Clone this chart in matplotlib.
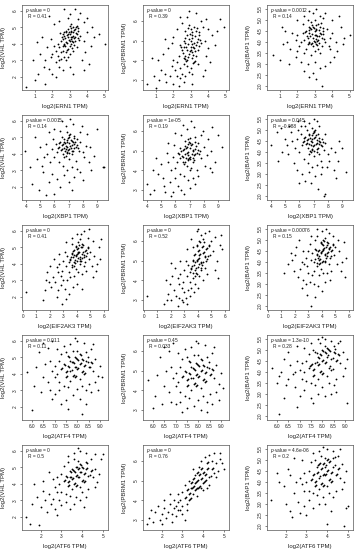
import matplotlib
matplotlib.use("Agg")
import matplotlib.pyplot as plt

plt.rcParams["font.family"] = ["Liberation Sans", "DejaVu Sans"]
plt.rcParams["mathtext.fontset"] = "custom"
plt.rcParams["mathtext.rm"] = "Liberation Sans"
plt.rcParams["mathtext.it"] = "Liberation Sans:italic"

X_GENES = ["ERN1", "XBP1", "EIF2AK3", "ATF4", "ATF6"]
Y_GENES = ["VHL", "PBRM1", "BAP1"]

X_TICKS = {
    "ERN1": [1, 2, 3, 4, 5],
    "XBP1": [4, 5, 6, 7, 8, 9],
    "EIF2AK3": [0, 1, 2, 3, 4, 5, 6],
    "ATF4": [6.0, 6.5, 7.0, 7.5, 8.0, 8.5, 9.0],
    "ATF6": [2, 3, 4, 5],
}
Y_TICKS = {
    "VHL": [2, 3, 4, 5, 6],
    "PBRM1": [3, 4, 5, 6],
    "BAP1": [2.0, 2.5, 3.0, 3.5, 4.0, 4.5, 5.0, 5.5],
}
X_LIM = {"ERN1": (0.26, 5.2), "XBP1": (3.72, 9.76), "EIF2AK3": (-0.07, 6.3),
         "ATF4": (5.57, 9.35), "ATF6": (1.1, 5.24)}
Y_LIM = {"VHL": (1.21, 6.36), "PBRM1": (2.5, 6.8), "BAP1": (1.82, 5.68)}

P_VALUES = [["0", "0", "0.0012"],
            ["0.0015", "1e-05", "0.045"],
            ["0", "0", "0.00076"],
            ["0.011", "0.45", "1.3e-10"],
            ["0", "0", "4.6e-06"]]
R_VALUES = [["0.41", "0.39", "0.14"],
            ["0.14", "0.19", "-0.088"],
            ["0.41", "0.52", "0.15"],
            ["0.11", "0.033", "0.28"],
            ["0.5", "0.76", "0.2"]]

ERN1_VHL = [(2.7,4.5),(2.8,4.7),(2.9,4.4),(3.0,4.6),(3.1,4.8),(3.2,4.5),(3.3,4.9),(3.0,4.2),(2.9,4.9),(3.1,4.3),(3.4,4.6),(2.8,4.1),(3.2,5.0),(2.6,4.3),(3.0,5.1),(3.3,4.2),(2.7,4.0),(3.5,4.8),(3.1,4.0),(2.9,4.6),(3.2,4.7),(3.4,5.1),(2.8,4.8),(3.0,3.9),(3.3,4.4),(2.6,4.6),(3.6,4.5),(3.1,5.2),(2.5,4.2),(3.2,4.1),
(2.4,3.8),(2.6,3.6),(2.8,3.5),(2.3,3.3),(2.5,3.1),(2.9,3.7),(2.2,3.6),(2.7,3.2),(3.0,3.4),(2.1,3.9),(2.4,3.0),(2.6,3.9),(2.0,3.4),(3.2,3.6),(2.8,3.0),(2.3,4.0),(2.5,3.5),(3.4,3.8),(2.9,3.2),(2.2,2.9),
(2.7,6.1),(3.3,6.1),(2.9,5.6),(3.5,5.5),(2.4,5.4),(3.0,5.8),(3.8,5.3),(2.1,5.2),(3.6,5.9),(1.8,5.7),
(3.8,4.2),(4.0,4.7),(4.2,3.9),(4.7,4.6),(5.0,4.0),(3.9,3.5),(4.3,5.0),(3.7,3.0),(4.1,2.8),(4.4,4.4),(3.8,2.4),(4.0,5.6),
(0.5,1.4),(1.0,1.8),(1.2,2.2),(1.5,2.6),(1.6,3.0),(1.3,3.4),(1.8,2.5),(1.9,3.2),(1.1,4.1),(1.7,3.8),(2.0,2.2),(1.4,4.4),(0.9,3.0),(2.2,2.0),(1.6,1.6),(2.6,2.4),(3.0,2.6),(2.4,2.6),(3.2,2.2),(1.9,4.3),
(2.85,4.55),(3.05,4.75),(3.15,4.45),(2.95,4.25),(3.25,4.85),(3.35,4.65),(2.75,4.35),(3.05,4.95),(3.15,4.15),(2.65,4.75),(3.45,4.35),(2.85,4.05),(3.25,4.35),(2.95,4.75),(3.35,5.05),(2.75,3.85),(3.05,4.45),(2.55,4.45),(3.45,4.95),(3.15,3.75),(2.85,3.65),(2.65,3.95),(3.55,4.25),(2.45,4.65),(3.25,3.95)]

ERN1_PBRM1 = [(2.7,4.9),(2.9,5.1),(3.0,4.7),(3.1,5.3),(2.8,4.5),(3.2,4.9),(3.3,5.5),(2.9,4.3),(3.0,5.6),(2.6,4.7),(3.1,4.4),(3.4,5.1),(2.8,5.3),(3.2,4.6),(2.7,4.2),(3.0,5.0),(3.3,4.8),(2.5,4.5),(3.5,5.3),(2.9,5.8),(3.1,4.1),(2.6,5.0),(3.4,4.5),(2.8,4.0),(3.2,5.7),(3.0,4.5),(2.7,5.5),(3.6,4.9),(2.4,4.8),(3.3,4.2),
(2.6,3.8),(2.4,3.6),(2.8,3.7),(2.2,3.9),(3.0,3.6),(2.5,3.3),(2.3,4.2),(2.9,3.4),(2.1,3.5),(2.7,3.2),(3.2,3.9),(2.0,4.0),(2.4,3.1),(3.4,3.8),(2.6,4.1),(1.9,3.7),(2.2,3.2),(3.1,3.3),
(2.8,6.2),(3.3,6.4),(2.5,5.9),(3.6,6.0),(2.2,5.6),(3.9,6.1),(2.9,6.5),(2.0,5.2),(3.7,5.7),(2.4,6.2),
(3.8,5.0),(4.0,4.6),(4.2,5.3),(4.7,6.1),(4.9,5.7),(3.9,4.2),(4.4,4.8),(4.1,3.9),(3.8,3.5),(4.5,5.5),(4.0,5.6),(3.7,3.2),
(0.5,2.8),(0.9,3.2),(1.2,3.0),(1.3,3.5),(1.5,3.3),(1.1,4.0),(1.6,2.9),(1.8,3.2),(1.4,4.3),(1.7,4.6),(2.0,2.8),(1.9,4.9),(0.8,4.1),(2.3,2.7),(1.5,5.1),(2.6,2.9),(3.1,2.8),(1.0,2.6),
(2.85,4.85),(3.05,5.15),(3.15,4.65),(2.95,4.45),(3.25,5.25),(3.35,4.95),(2.75,4.65),(3.05,5.45),(3.15,4.25),(2.65,5.15),(3.45,4.75),(2.85,4.15),(3.25,4.45),(2.95,5.35),(3.35,5.65),(2.75,3.95),(3.05,4.85),(2.55,4.35),(3.45,5.45),(3.15,3.85),(2.85,5.65),(2.65,4.05),(3.55,5.05),(2.45,4.65),(3.25,3.95)]

ERN1_BAP1 = [(2.7,4.4),(2.9,4.2),(3.0,4.5),(3.1,4.3),(2.8,4.6),(3.2,4.1),(2.6,4.2),(3.0,4.0),(3.3,4.4),(2.9,4.7),(2.7,4.0),(3.1,4.6),(3.4,4.2),(2.8,3.9),(3.2,4.8),(2.5,4.5),(3.0,4.3),(2.6,3.9),(3.5,4.5),(2.9,3.8),(3.3,4.7),(2.4,4.1),(3.1,3.9),(2.8,4.9),(3.6,4.0),(2.7,4.7),(3.4,3.8),(3.0,5.0),(2.3,4.4),(3.2,3.7),
(2.5,3.7),(2.2,4.0),(3.7,4.6),(3.9,4.2),(2.0,4.3),(2.4,3.5),(3.8,3.8),(2.1,3.8),(2.6,5.0),(3.5,5.1),(4.0,4.4),(2.3,4.8),(3.3,3.5),(1.9,4.1),(2.8,3.4),(4.2,4.0),(3.0,3.6),(2.0,3.6),
(2.7,5.4),(3.1,5.5),(2.4,5.2),(3.6,5.3),(2.9,5.3),(2.0,5.0),(4.0,5.0),(3.3,5.2),
(4.5,4.7),(4.7,4.2),(5.0,4.3),(4.3,3.6),(4.4,5.2),(4.1,3.3),(3.9,3.1),(4.6,3.9),
(0.6,3.4),(1.0,3.2),(1.1,4.7),(1.3,4.5),(1.6,3.7),(1.4,4.0),(1.7,4.4),(1.5,3.0),(1.9,3.3),(1.2,3.9),
(2.2,3.1),(2.6,3.0),(3.0,3.1),(2.9,2.6),(3.3,2.8),(2.4,2.7),(3.6,2.9),(3.1,2.3),(3.4,2.0),(2.7,2.4),(3.9,3.7),
(2.85,4.35),(3.05,4.55),(3.15,4.25),(2.95,4.05),(3.25,4.55),(3.35,4.35),(2.75,4.25),(3.05,4.75),(3.15,4.05),(2.65,4.55),(3.45,4.35),(2.85,3.95),(3.25,4.25),(2.95,4.65),(3.35,4.85),(2.75,4.65),(3.05,4.15),(2.55,4.25),(3.45,4.65),(3.15,3.85),(2.85,4.75),(2.65,3.95),(3.55,4.15),(2.45,4.45),(3.25,3.95)]

XBP1_VHL = [(6.8,4.5),(7.0,4.3),(6.6,4.6),(7.2,4.8),(6.9,4.1),(7.1,4.5),(6.7,4.9),(7.3,4.2),(6.5,4.3),(7.0,5.0),(6.8,3.9),(7.4,4.6),(6.4,4.7),(7.2,4.0),(6.9,4.7),(6.6,4.0),(7.5,4.4),(6.3,4.4),(7.1,5.2),(6.8,4.3),(7.6,4.9),(6.2,4.1),(7.3,4.7),(6.7,3.8),(7.0,3.7),(6.5,5.0),(7.7,4.2),(6.1,4.6),(7.4,5.1),(6.9,5.3),
(6.0,3.8),(5.8,4.3),(7.8,4.7),(8.0,4.1),(5.7,3.5),(6.3,3.5),(7.5,3.6),(8.2,4.5),(5.5,4.0),(6.6,3.3),(7.2,3.2),(8.1,3.8),(5.9,4.9),(6.4,5.4),(7.8,5.3),(5.4,4.6),(6.9,3.0),(7.6,3.1),
(6.5,6.0),(7.3,5.8),(7.9,5.7),(6.8,5.7),(6.0,5.5),(8.3,5.2),(7.1,6.1),(5.6,5.3),
(8.5,4.4),(8.8,3.9),(9.4,3.2),(9.5,3.2),(8.6,3.0),(9.0,5.5),(8.4,3.5),
(3.9,4.2),(4.3,3.2),(4.8,3.7),(5.0,4.4),(5.2,2.9),(4.6,5.0),(5.1,3.3),(4.4,2.2),(5.3,3.8),(4.9,1.8),
(5.8,2.8),(6.2,2.5),(6.7,2.7),(7.0,2.3),(7.4,2.6),(6.4,2.0),(5.6,2.3),(7.8,2.9),(6.0,1.6),(7.2,1.8),(5.4,1.5),(8.0,2.4),
(6.85,4.45),(7.05,4.65),(6.65,4.35),(7.25,4.55),(6.95,4.25),(7.15,4.85),(6.75,4.65),(7.35,4.35),(6.55,4.55),(7.05,4.05),(6.85,4.85),(7.45,4.75),(6.45,4.25),(7.25,4.15),(6.95,4.95),(6.65,4.75),(7.55,4.55),(6.35,4.65),(7.15,4.35),(6.85,4.05),(7.65,4.35),(6.25,4.35),(7.35,4.95),(6.75,4.15),(7.05,5.15)]

XBP1_PBRM1 = [(6.8,4.9),(7.0,4.7),(6.6,5.1),(7.2,5.0),(6.9,4.5),(7.1,5.3),(6.7,4.4),(7.3,4.8),(6.5,4.7),(7.0,5.4),(6.8,4.2),(7.4,5.1),(6.4,5.0),(7.2,4.4),(6.9,5.6),(6.6,4.3),(7.5,4.9),(6.3,4.6),(7.1,4.1),(6.8,5.2),(7.6,5.4),(6.2,4.9),(7.3,4.5),(6.7,5.5),(7.0,4.0),(6.5,4.4),(7.7,5.0),(6.1,4.4),(7.4,5.7),(6.9,4.8),
(6.0,4.1),(5.8,4.7),(7.8,4.6),(8.0,5.2),(5.7,4.0),(6.3,3.8),(7.5,4.0),(8.2,4.8),(5.5,4.4),(6.6,3.7),(7.2,3.6),(8.1,4.2),(5.9,5.3),(6.4,5.8),(7.8,5.8),(5.4,4.9),(6.9,3.5),(7.6,3.7),
(6.5,6.3),(7.3,6.2),(7.9,6.0),(6.8,6.1),(6.0,5.9),(8.3,5.6),(7.1,6.5),(8.6,6.2),
(8.5,5.0),(8.8,4.4),(9.3,5.2),(8.6,3.9),(9.0,5.8),(8.4,4.1),
(4.0,3.3),(4.5,3.0),(4.8,3.8),(5.0,4.3),(5.2,3.2),(4.6,4.6),(5.1,3.6),(4.4,4.0),(5.3,2.9),(4.2,2.8),(5.6,3.4),(5.8,2.9),(6.2,3.2),(6.0,3.6),(5.5,5.4),(6.4,3.0),(7.0,3.1),(5.7,2.7),(6.6,2.8),(7.4,3.3),
(6.85,4.95),(7.05,5.15),(6.65,4.85),(7.25,5.05),(6.95,4.65),(7.15,5.35),(6.75,5.15),(7.35,4.85),(6.55,5.05),(7.05,4.55),(6.85,5.35),(7.45,5.25),(6.45,4.75),(7.25,4.65),(6.95,5.45),(6.65,5.25),(7.55,5.05),(6.35,5.15),(7.15,4.85),(6.85,4.55),(7.65,4.85),(6.25,4.85),(7.35,5.45),(6.75,4.65),(7.05,5.65)]

XBP1_BAP1 = [(6.8,4.5),(7.0,4.3),(6.6,4.6),(7.2,4.4),(6.9,4.1),(7.1,4.7),(6.7,4.8),(7.3,4.2),(6.5,4.4),(7.0,4.9),(6.8,4.0),(7.4,4.5),(6.4,4.7),(7.2,4.0),(6.9,4.6),(6.6,4.2),(7.5,4.3),(6.3,4.5),(7.1,5.0),(6.8,4.3),(7.6,4.6),(6.2,4.3),(7.3,4.8),(6.7,3.9),(7.0,3.8),(6.5,5.0),(7.7,4.1),(6.1,4.8),(7.4,3.9),(6.9,5.1),
(6.0,4.0),(5.8,4.6),(7.8,4.4),(8.0,3.9),(5.7,4.2),(6.3,3.7),(7.5,3.6),(8.2,4.2),(5.5,4.5),(6.6,3.5),(7.2,3.4),(8.1,3.6),(5.9,5.0),(6.4,5.2),(7.8,4.8),(5.4,4.9),(6.9,3.3),(7.6,3.3),
(6.3,5.4),(7.0,5.5),(6.7,5.3),(5.9,5.4),(7.4,5.2),(6.1,5.2),(7.2,5.4),
(8.5,4.0),(8.7,3.6),(9.3,3.1),(8.8,4.5),(8.4,3.2),(9.0,4.2),(8.6,2.8),
(4.0,4.3),(4.4,4.9),(4.8,4.0),(5.0,4.6),(5.2,3.9),(4.7,5.1),(5.1,4.3),(4.5,3.6),(5.3,5.2),
(5.8,3.2),(6.2,3.0),(6.7,3.1),(7.1,2.9),(7.5,3.0),(6.4,2.7),(5.6,3.5),(7.9,3.3),(6.0,2.6),(7.3,2.3),(7.8,2.1),(6.8,2.6),(7.7,2.0),
(6.85,4.45),(7.05,4.65),(6.65,4.35),(7.25,4.55),(6.95,4.25),(7.15,4.75),(6.75,4.65),(7.35,4.35),(6.55,4.55),(7.05,4.05),(6.85,4.75),(7.45,4.45),(6.45,4.35),(7.25,4.15),(6.95,4.85),(6.65,4.75),(7.55,4.25),(6.35,4.65),(7.15,4.35),(6.85,4.15),(7.65,4.45),(6.25,4.45),(7.35,4.65),(6.75,4.05),(7.05,4.95)]

EIF2AK3_VHL = [(3.9,4.5),(4.1,4.7),(4.2,4.3),(4.0,4.9),(3.7,4.4),(4.4,4.6),(3.8,4.1),(4.3,5.0),(3.6,4.6),(4.5,4.4),(4.0,4.2),(3.9,5.1),(4.6,4.8),(3.5,4.3),(4.2,4.0),(4.1,5.3),(3.7,4.8),(4.7,4.5),(3.4,4.1),(4.3,4.2),(4.4,5.2),(3.8,3.9),(4.0,4.6),(4.8,5.0),(3.6,3.8),(4.5,3.9),(3.3,4.5),(4.2,5.5),(3.9,3.7),(4.6,4.1),
(3.2,3.9),(3.0,4.2),(2.9,3.6),(3.4,3.5),(3.1,4.7),(2.8,3.3),(3.5,3.2),(2.7,4.0),(3.3,3.0),(4.9,4.3),(5.0,4.7),(5.1,3.9),(4.7,3.6),(2.6,3.5),(3.0,3.0),(4.4,3.4),(3.8,3.3),(2.5,3.8),(4.1,3.5),(3.6,5.2),
(4.0,5.8),(4.5,6.0),(3.6,5.6),(4.8,5.6),(5.2,5.4),(3.2,5.3),(4.3,5.8),(5.8,5.5),(4.9,6.1),
(5.3,4.5),(5.5,4.0),(5.6,5.0),(5.4,3.6),(5.2,3.2),(5.7,4.3),
(0.2,2.3),(1.5,1.8),(1.6,2.4),(1.9,2.9),(2.1,2.6),(2.2,3.2),(1.8,3.5),(2.4,2.9),(2.0,3.9),(2.3,4.3),(2.6,2.4),(2.8,2.7),(3.1,2.5),(2.5,2.0),(3.4,2.2),(3.7,2.6),(2.9,1.6),(1.7,3.0),(2.7,4.6),(4.0,2.8),(3.2,1.9),(4.4,2.5),
(3.95,4.55),(4.15,4.75),(4.25,4.45),(4.05,4.95),(3.75,4.55),(4.45,4.75),(3.85,4.25),(4.35,5.05),(3.65,4.65),(4.55,4.55),(4.05,4.35),(3.95,5.05),(4.65,4.85),(3.55,4.45),(4.25,4.15),(4.15,5.15),(3.75,4.85),(4.75,4.65),(3.45,4.25),(4.35,4.35),(4.45,5.15),(3.85,4.05),(4.05,4.65),(4.85,4.95),(3.65,3.95)]

EIF2AK3_PBRM1 = [(3.9,5.0),(4.1,5.3),(4.2,4.9),(4.0,5.5),(3.7,4.8),(4.4,5.4),(3.8,4.5),(4.3,5.7),(3.6,5.0),(4.5,5.2),(4.0,4.7),(3.9,5.8),(4.6,5.6),(3.5,4.6),(4.2,4.5),(4.1,6.0),(3.7,5.3),(4.7,5.1),(3.4,4.4),(4.3,4.8),(4.4,6.1),(3.8,4.2),(4.0,5.1),(4.8,5.8),(3.6,4.1),(4.5,4.6),(3.3,4.8),(4.2,6.3),(3.9,4.3),(4.6,5.0),
(3.2,4.2),(3.0,4.5),(2.9,3.9),(3.4,3.9),(3.1,5.0),(2.8,3.6),(3.5,3.6),(2.7,4.3),(3.3,3.5),(4.9,5.3),(5.0,6.0),(5.1,5.5),(4.7,4.3),(2.6,3.8),(3.0,3.4),(4.4,4.0),(3.8,3.8),(2.5,4.1),(4.1,4.2),(3.6,5.7),
(3.9,6.5),(4.5,6.4),(3.5,6.1),(4.8,6.5),(5.3,6.2),(3.2,5.6),(4.0,6.6),
(5.4,5.0),(5.6,5.8),(5.8,5.6),(5.3,4.5),(5.5,4.1),(5.7,6.3),
(0.2,3.2),(1.5,2.8),(1.7,3.0),(1.8,3.3),(2.0,3.0),(2.2,3.5),(1.9,3.8),(2.4,3.2),(2.1,4.2),(2.3,4.6),(2.6,3.1),(2.8,3.0),(3.1,3.1),(2.5,2.7),(3.4,3.2),(3.7,3.4),(2.9,2.9),(1.6,4.0),(2.7,5.0),(4.0,3.6),(3.2,2.8),(2.0,4.9),
(3.95,5.05),(4.15,5.35),(4.25,4.95),(4.05,5.55),(3.75,4.95),(4.45,5.45),(3.85,4.65),(4.35,5.75),(3.65,5.05),(4.55,5.25),(4.05,4.85),(3.95,5.75),(4.65,5.65),(3.55,4.75),(4.25,4.65),(4.15,5.95),(3.75,5.35),(4.75,5.25),(3.45,4.55),(4.35,4.95),(4.45,5.95),(3.85,4.35),(4.05,5.15),(4.85,5.75),(3.65,4.35)]

EIF2AK3_BAP1 = [(3.9,4.4),(4.1,4.6),(4.2,4.3),(4.0,4.8),(3.7,4.5),(4.4,4.4),(3.8,4.1),(4.3,4.7),(3.6,4.3),(4.5,4.6),(4.0,4.0),(3.9,4.9),(4.6,4.2),(3.5,4.6),(4.2,4.0),(4.1,5.0),(3.7,4.2),(4.7,4.5),(3.4,4.0),(4.3,4.2),(4.4,4.9),(3.8,3.9),(4.0,4.5),(4.8,4.8),(3.6,3.8),(4.5,3.9),(3.3,4.4),(4.2,5.1),(3.9,3.7),(4.6,4.7),
(3.2,4.1),(3.0,4.5),(2.9,3.8),(3.4,3.6),(3.1,4.8),(2.8,4.2),(3.5,5.0),(2.7,3.9),(3.3,3.4),(4.9,4.3),(5.0,4.7),(5.1,3.9),(4.7,3.6),(2.6,4.5),(3.0,3.5),(4.4,3.5),(3.8,3.4),(2.5,4.0),(4.1,3.5),(3.6,5.2),
(4.0,5.4),(4.5,5.3),(3.6,5.5),(4.8,5.2),(5.2,5.0),(3.2,5.2),(4.3,5.5),
(5.3,4.5),(5.5,4.0),(5.6,4.9),(5.4,3.6),(5.8,4.2),(5.7,3.3),
(1.2,3.5),(1.5,3.9),(1.7,4.4),(1.9,3.6),(2.1,4.7),(2.2,3.3),(1.8,4.1),(2.4,3.7),(2.0,4.3),(2.3,5.0),(2.6,3.2),(2.8,3.0),(3.1,3.1),(2.5,2.8),(3.4,3.0),(3.7,2.9),(2.9,2.5),(4.2,3.1),(3.5,2.4),(4.0,2.7),(4.6,3.2),(3.2,2.0),
(3.95,4.45),(4.15,4.65),(4.25,4.35),(4.05,4.75),(3.75,4.55),(4.45,4.45),(3.85,4.15),(4.35,4.75),(3.65,4.35),(4.55,4.65),(4.05,4.05),(3.95,4.85),(4.65,4.25),(3.55,4.55),(4.25,4.05),(4.15,4.95),(3.75,4.25),(4.75,4.55),(3.45,4.15),(4.35,4.25),(4.45,4.85),(3.85,3.95),(4.05,4.55),(4.85,4.75),(3.65,3.95)]

ATF4_VHL = [(7.9,4.4),(8.1,4.6),(7.7,4.2),(8.0,4.9),(7.8,4.7),(8.3,4.5),(7.6,4.5),(8.2,4.1),(7.9,5.0),(8.4,4.8),(7.5,4.1),(8.0,4.3),(7.7,4.8),(8.5,4.4),(7.4,4.6),(8.1,5.2),(7.8,3.9),(8.3,4.0),(7.6,5.1),(8.6,4.7),(7.3,4.3),(8.2,4.9),(7.9,3.8),(8.4,5.3),(7.5,3.8),(8.0,5.4),(7.2,4.8),(8.7,4.2),(7.7,3.6),(8.1,3.7),
(7.1,4.0),(7.0,4.5),(7.2,3.5),(8.8,4.9),(8.9,3.9),(7.4,3.3),(8.5,3.4),(7.6,3.2),(8.2,3.3),(8.0,3.1),(7.3,5.2),(8.6,5.5),(6.9,4.2),(7.8,5.4),(8.8,3.5),(7.0,3.8),(8.4,3.0),(7.5,5.3),(9.0,4.5),(6.8,4.8),
(7.7,5.8),(8.0,6.0),(8.3,5.9),(7.4,5.7),(8.7,5.8),(7.9,6.2),(6.7,5.6),(7.1,5.5),
(7.2,3.0),(7.8,2.7),(8.1,2.5),(8.6,2.9),(7.5,2.4),(7.3,2.2),(8.4,2.2),(7.0,2.8),(8.9,3.0),(7.6,1.9),(8.2,1.6),(6.9,2.5),(9.1,3.8),
(5.8,4.1),(6.1,3.3),(6.3,5.3),(6.5,3.8),(6.6,4.6),(6.4,2.9),(6.2,4.4),(6.7,3.5),(6.0,1.8),(6.8,3.0),(6.5,5.9),(6.9,6.0),
(7.95,4.45),(8.15,4.65),(7.75,4.25),(8.05,4.85),(7.85,4.65),(8.35,4.55),(7.65,4.45),(8.25,4.15),(7.95,4.95),(8.45,4.75),(7.55,4.15),(8.05,4.35),(7.75,4.75),(8.55,4.45),(7.45,4.55),(8.15,5.15),(7.85,3.95),(8.35,4.05),(7.65,5.05),(8.65,4.65),(7.35,4.35),(8.25,4.85),(7.95,3.85),(8.45,5.05),(7.55,3.85)]

ATF4_PBRM1 = [(7.9,4.8),(8.1,5.0),(7.7,4.6),(8.0,5.3),(7.8,5.1),(8.3,4.9),(7.6,4.9),(8.2,4.5),(7.9,5.4),(8.4,5.2),(7.5,4.5),(8.0,4.7),(7.7,5.2),(8.5,4.8),(7.4,5.0),(8.1,5.6),(7.8,4.3),(8.3,4.4),(7.6,5.5),(8.6,5.1),(7.3,4.7),(8.2,5.3),(7.9,4.2),(8.4,5.7),(7.5,4.2),(8.0,5.8),(7.2,5.2),(8.7,4.6),(7.7,4.0),(8.1,4.1),
(7.1,4.4),(7.0,4.9),(7.2,3.9),(8.8,5.3),(8.9,4.3),(7.4,3.7),(8.5,3.8),(7.6,3.6),(8.2,3.7),(8.0,3.5),(7.3,5.6),(8.6,5.9),(6.9,4.6),(7.8,5.8),(8.8,3.9),(7.0,4.2),(8.4,3.4),(7.5,5.7),(9.0,4.9),(6.8,5.2),
(7.7,6.2),(8.0,6.4),(8.3,6.3),(7.4,6.1),(8.7,6.2),(7.9,6.5),(6.7,6.0),(7.1,5.9),
(7.2,3.4),(7.8,3.2),(8.1,3.0),(8.6,3.3),(7.5,3.1),(7.3,2.9),(8.4,2.9),(7.0,3.3),(8.9,3.5),(9.1,4.1),
(5.8,4.5),(6.1,3.7),(6.3,5.7),(6.5,4.2),(6.6,5.0),(6.4,3.3),(6.2,4.8),(6.7,3.9),(6.0,3.1),(6.8,3.4),(6.5,6.2),(6.9,6.4),
(7.95,4.85),(8.15,5.05),(7.75,4.65),(8.05,5.25),(7.85,5.05),(8.35,4.95),(7.65,4.85),(8.25,4.55),(7.95,5.35),(8.45,5.15),(7.55,4.55),(8.05,4.75),(7.75,5.15),(8.55,4.85),(7.45,4.95),(8.15,5.55),(7.85,4.35),(8.35,4.45),(7.65,5.45),(8.65,5.05),(7.35,4.75),(8.25,5.25),(7.95,4.25),(8.45,5.45),(7.55,4.25)]

ATF4_BAP1 = [(8.0,4.5),(8.2,4.7),(7.8,4.3),(8.1,4.9),(7.9,4.8),(8.4,4.6),(7.7,4.4),(8.3,4.2),(8.0,5.0),(8.5,4.9),(7.6,4.1),(8.1,4.4),(7.8,4.7),(8.6,4.5),(7.5,4.3),(8.2,5.1),(7.9,4.0),(8.4,4.1),(7.7,4.9),(8.7,4.8),(7.4,4.2),(8.3,5.0),(8.0,3.9),(8.5,5.2),(7.6,3.8),(8.1,5.2),(7.3,4.5),(8.8,4.4),(7.8,3.7),(8.2,3.8),
(7.2,4.0),(7.1,4.4),(7.3,3.6),(8.9,4.9),(9.0,4.2),(7.5,3.5),(8.6,3.7),(7.7,3.4),(8.3,3.5),(8.0,3.3),(7.4,4.8),(8.7,5.3),(7.0,4.1),(7.9,5.3),(8.9,3.8),(7.1,3.7),(8.5,3.4),(7.6,5.0),(9.1,4.6),(6.9,4.5),
(7.8,5.5),(8.1,5.5),(8.4,5.4),(7.5,5.3),(8.8,5.4),(8.0,5.6),(7.2,5.1),
(7.2,3.2),(7.8,3.0),(8.1,2.9),(8.6,3.1),(7.5,2.8),(7.0,2.9),(8.4,3.0),(6.8,3.3),(9.1,2.6),(6.3,2.8),(6.9,2.4),(6.1,2.1),(7.6,2.6),
(5.8,4.2),(6.1,3.8),(6.3,4.6),(6.5,3.7),(6.6,4.3),(6.4,3.4),(6.2,4.0),(6.7,3.9),(6.0,3.5),(6.8,4.0),(6.5,4.9),(6.9,5.2),
(8.05,4.55),(8.25,4.75),(7.85,4.35),(8.15,4.85),(7.95,4.75),(8.45,4.65),(7.75,4.45),(8.35,4.25),(8.05,4.95),(8.55,4.85),(7.65,4.15),(8.15,4.45),(7.85,4.65),(8.65,4.55),(7.55,4.35),(8.25,5.05),(7.95,4.05),(8.45,4.15),(7.75,4.85),(8.75,4.75),(7.45,4.25),(8.35,4.95),(8.05,3.95),(8.55,5.05),(7.65,3.85)]

ATF6_VHL = [(3.7,4.5),(3.9,4.7),(3.5,4.3),(3.8,4.9),(3.6,4.8),(4.1,4.6),(3.4,4.4),(4.0,4.2),(3.7,5.0),(4.2,4.9),(3.3,4.1),(3.8,4.4),(3.5,4.9),(4.3,4.5),(3.2,4.5),(3.9,5.2),(3.6,4.0),(4.1,4.1),(3.4,4.8),(4.4,4.8),(3.1,4.2),(4.0,5.0),(3.7,3.9),(4.2,5.3),(3.3,3.9),(3.8,5.4),(3.0,4.6),(4.5,4.4),(3.5,3.7),(3.9,3.8),
(2.9,4.0),(2.8,4.4),(3.0,3.5),(4.6,4.9),(4.7,4.1),(3.2,3.4),(4.3,3.7),(3.4,3.3),(4.0,3.5),(3.7,3.2),(3.1,5.1),(4.4,5.5),(2.7,3.8),(3.6,5.5),(4.6,3.8),(2.8,3.5),(4.2,3.2),(3.3,5.3),(4.8,4.6),(2.6,4.3),
(3.6,5.9),(3.9,6.0),(4.2,5.9),(3.3,5.7),(4.6,5.8),(3.8,6.2),(4.9,5.5),(5.0,5.8),
(1.3,2.0),(1.5,1.6),(1.6,2.8),(1.8,3.2),(1.9,1.5),(2.0,2.6),(2.1,3.6),(2.2,3.0),(2.3,2.3),(2.4,3.4),(2.5,2.8),(2.6,3.1),(2.7,2.5),(2.9,3.0),(2.8,2.1),(3.0,2.7),(3.2,2.9),(3.4,2.5),(3.6,2.8),(2.1,4.2),(1.7,4.0),(2.4,4.7),(3.9,3.0),(4.1,2.6),
(3.75,4.55),(3.95,4.75),(3.55,4.35),(3.85,4.95),(3.65,4.75),(4.15,4.65),(3.45,4.45),(4.05,4.25),(3.75,5.05),(4.25,4.95),(3.35,4.15),(3.85,4.45),(3.55,4.85),(4.35,4.55),(3.25,4.45),(3.95,5.15),(3.65,4.05),(4.15,4.15),(3.45,4.75),(4.45,4.85),(3.15,4.25),(4.05,4.95),(3.75,3.95),(4.25,5.25),(3.35,3.95)]

ATF6_PBRM1 = [(3.7,5.0),(3.9,5.1),(3.5,4.7),(3.8,5.3),(3.6,4.9),(4.1,5.3),(3.4,4.6),(4.0,4.9),(3.7,5.4),(4.2,5.6),(3.3,4.3),(3.8,4.7),(3.5,5.1),(4.3,5.2),(3.2,4.5),(3.9,5.6),(3.6,4.5),(4.1,5.0),(3.4,4.9),(4.4,5.6),(3.1,4.1),(4.0,5.4),(3.7,4.6),(4.2,5.9),(3.3,4.0),(3.8,5.7),(3.0,4.4),(4.5,5.4),(3.5,4.3),(3.9,4.6),
(2.9,4.0),(2.8,4.3),(3.0,3.7),(4.6,5.9),(4.7,5.5),(3.2,3.8),(4.3,4.8),(3.4,4.1),(4.0,4.5),(3.7,4.2),(3.1,4.8),(4.4,6.0),(2.7,3.7),(3.6,5.3),(4.6,5.2),(2.8,3.5),(4.2,4.6),(3.3,5.0),(4.8,6.1),(2.6,4.0),
(4.1,6.2),(4.5,6.4),(3.9,6.0),(4.8,6.4),(4.9,5.9),(4.3,6.3),(5.0,5.6),(3.5,5.6),
(1.3,2.8),(1.4,3.1),(1.6,2.9),(1.7,3.4),(1.9,3.0),(2.0,3.3),(2.1,3.6),(2.2,3.1),(2.3,3.4),(2.4,3.8),(2.5,3.3),(2.6,3.6),(2.7,3.2),(2.9,3.5),(2.8,3.9),(3.0,3.3),(3.2,3.5),(2.1,4.0),(1.8,3.7),(2.4,4.3),(2.5,2.9),(1.5,3.5),(2.0,2.8),(3.1,3.0),
(3.75,5.05),(3.95,5.15),(3.55,4.75),(3.85,5.35),(3.65,4.95),(4.15,5.35),(3.45,4.65),(4.05,4.95),(3.75,5.45),(4.25,5.65),(3.35,4.35),(3.85,4.75),(3.55,5.15),(4.35,5.25),(3.25,4.55),(3.95,5.65),(3.65,4.55),(4.15,5.05),(3.45,4.95),(4.45,5.65),(3.15,4.15),(4.05,5.45),(3.75,4.65),(4.25,5.95),(3.35,4.05)]

ATF6_BAP1 = [(3.8,4.3),(4.0,4.5),(3.6,4.2),(3.9,4.7),(3.7,4.6),(4.2,4.4),(3.5,4.4),(4.1,4.1),(3.8,4.8),(4.3,4.7),(3.4,4.0),(3.9,4.3),(3.6,4.8),(4.4,4.3),(3.3,4.3),(4.0,5.0),(3.7,3.9),(4.2,4.0),(3.5,4.7),(4.5,4.6),(3.2,4.1),(4.1,4.9),(3.8,3.8),(4.3,5.1),(3.4,3.8),(3.9,5.1),(3.1,4.5),(4.6,4.2),(3.6,3.7),(4.0,3.8),
(3.0,4.0),(2.9,4.4),(3.1,3.6),(4.7,4.8),(4.8,4.0),(3.3,3.5),(4.4,3.6),(3.5,3.4),(4.1,3.5),(3.8,3.3),(3.2,4.9),(4.5,5.2),(2.8,3.9),(3.7,5.2),(4.7,3.7),(2.9,3.6),(4.3,3.3),(3.4,5.0),(4.9,4.5),(2.7,4.2),
(3.6,5.4),(4.0,5.5),(4.3,5.4),(3.3,5.3),(4.6,5.5),(3.8,5.6),(2.8,5.0),(2.4,5.1),
(1.3,3.2),(1.7,4.0),(1.6,4.4),(1.9,3.8),(2.0,3.0),(2.1,4.6),(2.2,2.7),(2.3,2.4),(2.4,3.5),(2.5,4.0),(2.6,3.1),(2.7,2.6),(2.9,2.9),(3.0,2.5),(3.1,3.2),(3.3,2.8),(3.6,3.0),(3.9,3.0),(4.2,2.7),(4.0,2.1),(4.8,2.0),(5.0,2.9),(4.9,2.8),(2.2,4.3),
(3.85,4.35),(4.05,4.55),(3.65,4.25),(3.95,4.75),(3.75,4.65),(4.25,4.45),(3.55,4.45),(4.15,4.15),(3.85,4.85),(4.35,4.75),(3.45,4.05),(3.95,4.35),(3.65,4.85),(4.45,4.35),(3.35,4.35),(4.05,5.05),(3.75,3.95),(4.25,4.05),(3.55,4.75),(4.55,4.65),(3.25,4.15),(4.15,4.95),(3.85,3.85),(4.35,5.15),(3.45,3.85)]

POINTS = [[ERN1_VHL, ERN1_PBRM1, ERN1_BAP1],
          [XBP1_VHL, XBP1_PBRM1, XBP1_BAP1],
          [EIF2AK3_VHL, EIF2AK3_PBRM1, EIF2AK3_BAP1],
          [ATF4_VHL, ATF4_PBRM1, ATF4_BAP1],
          [ATF6_VHL, ATF6_PBRM1, ATF6_BAP1]]

W, H = 360, 550
fig = plt.figure(figsize=(W / 100, H / 100), dpi=100)
fig.patch.set_facecolor("white")

col_left = [22, 143, 267]
row_top = [5, 115, 225, 335, 445]
ax_w, ax_h = 86, 85

for r, xg in enumerate(X_GENES):
    for c, yg in enumerate(Y_GENES):
        ax = fig.add_axes([col_left[c] / W, 1 - (row_top[r] + ax_h) / H, ax_w / W, ax_h / H])
        pts = POINTS[r][c]
        xs = [p[0] for p in pts]
        ys = [p[1] for p in pts]
        ax.scatter(xs, ys, s=1.7, c="black", linewidths=0, marker="o")
        ax.set_xlim(*X_LIM[xg])
        ax.set_ylim(*Y_LIM[yg])
        ax.set_xticks(X_TICKS[xg])
        ax.set_yticks(Y_TICKS[yg])
        if xg == "ATF4":
            ax.set_xticklabels([f"{v:.1f}" for v in X_TICKS[xg]])
        if yg == "BAP1":
            ax.set_yticklabels([f"{v:.1f}" for v in Y_TICKS[yg]])
        ax.tick_params(direction="out", length=1.6, width=0.4, pad=1.2,
                       labelsize=3.4, colors="#222222")
        for lab in ax.get_yticklabels():
            lab.set_rotation(90)
            lab.set_va("center")
        for s in ax.spines.values():
            s.set_linewidth(0.5)
            s.set_color("#555555")
        ax.set_xlabel(f"log2({xg} TPM)", fontsize=4.3, color="#222222")
        ax.set_ylabel(f"log2({yg} TPM)", fontsize=4.3, color="#222222")
        ax.xaxis.set_label_coords(0.5, -0.17)
        ax.yaxis.set_label_coords(-0.19, 0.5)
        ax.text(0.04, 0.93, r"$\it{p}$-value = " + P_VALUES[r][c], transform=ax.transAxes,
                fontsize=3.5, ha="left", va="center", color="#222222")
        ax.text(0.065, 0.86, "R = " + R_VALUES[r][c], transform=ax.transAxes,
                fontsize=3.5, ha="left", va="center", color="#222222")

fig.savefig("out.png", dpi=100, facecolor="white")
